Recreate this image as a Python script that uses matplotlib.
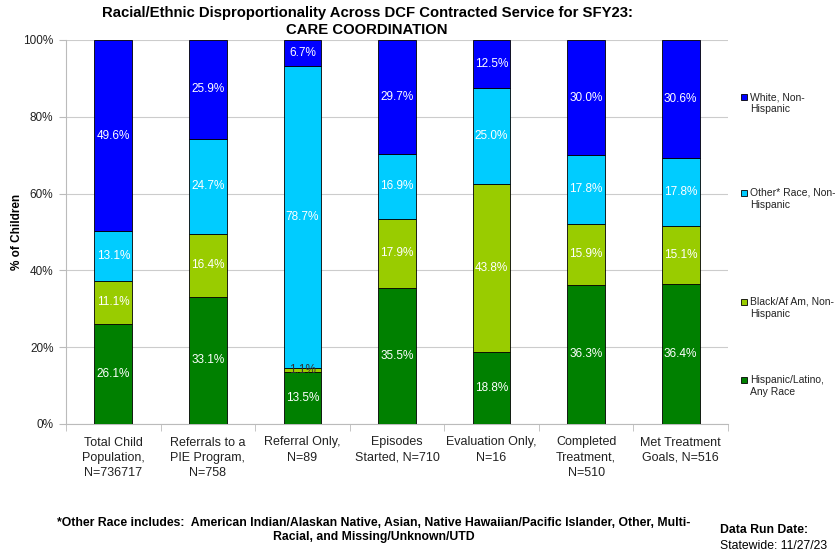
import matplotlib
matplotlib.use("Agg")
import matplotlib.pyplot as plt
import numpy as np
from matplotlib.patches import Rectangle

plt.rcParams['font.family'] = ['Liberation Sans', 'DejaVu Sans']

categories = ["Total Child\nPopulation,\nN=736717", "Referrals to a\nPIE Program,\nN=758",
              "Referral Only,\nN=89", "Episodes\nStarted, N=710", "Evaluation Only,\nN=16",
              "Completed\nTreatment,\nN=510", "Met Treatment\nGoals, N=516"]
hispanic = [26.1, 33.1, 13.5, 35.5, 18.8, 36.3, 36.4]
black = [11.1, 16.4, 1.1, 17.9, 43.8, 15.9, 15.1]
other = [13.1, 24.7, 78.7, 16.9, 25.0, 17.8, 17.8]
white = [49.6, 25.9, 6.7, 29.7, 12.5, 30.0, 30.6]

series = [
    ("Hispanic/Latino,\nAny Race", hispanic, "#008000"),
    ("Black/Af Am, Non-\nHispanic", black, "#99CC00"),
    ("Other* Race, Non-\nHispanic", other, "#00CCFF"),
    ("White, Non-\nHispanic", white, "#0000FF"),
]

W, H = 835, 554
fig = plt.figure(figsize=(W/100, H/100), dpi=100)
ax = fig.add_axes([66/W, 1-424/H, (728-66)/W, (424-40)/H])

x = np.arange(len(categories))
bottom = np.zeros(len(categories))
for name, vals, col in series:
    vals = np.array(vals)
    ax.bar(x, vals, 0.4, bottom=bottom, color=col, edgecolor="black", linewidth=0.6, zorder=3)
    for xi, b, v in zip(x, bottom, vals):
        tc = "#333333" if v < 3 else "white"
        ax.text(xi, b + v/2, f"{v:.1f}%", ha="center", va="center", color=tc, fontsize=8.5, zorder=4)
    bottom += vals

ax.set_xlim(-0.5, len(categories)-0.5)
ax.set_ylim(0, 100)
ax.set_yticks(np.arange(0, 101, 20))
ax.set_yticklabels([f"{t}%" for t in range(0, 101, 20)], fontsize=8.5, color="#222222")
ax.set_xticks(x)
ax.set_xticklabels(categories, fontsize=9, linespacing=1.35, color="#222222")
ax.tick_params(axis="x", length=0, pad=9)
ax.tick_params(axis="y", length=5, color="#BBBBBB", pad=4)
ax.grid(axis="y", color="#CCCCCC", linewidth=0.8, zorder=0)
for s in ["top", "right"]:
    ax.spines[s].set_visible(False)
ax.spines["left"].set_color("#BBBBBB")
ax.spines["bottom"].set_color("#BBBBBB")
# small ticks between the category groups
ax.set_xticks(np.arange(-0.5, len(categories), 1), minor=True)
ax.tick_params(axis="x", which="minor", length=5, color="#BBBBBB")

fig.text(17/W, 1-232/H, "% of Children", rotation=90, ha="center", va="center",
         fontsize=8.5, fontweight="bold")

fig.text(367/W, 1-13/H, "Racial/Ethnic Disproportionality Across DCF Contracted Service for SFY23:",
         ha="center", va="center", fontsize=10.7, fontweight="bold")
fig.text(367/W, 1-30/H, "CARE COORDINATION", ha="center", va="center", fontsize=10.7, fontweight="bold")

# legend entries, top to bottom
ly = [97, 193, 302, 380]
for (name, vals, col), y in zip(series[::-1], ly):
    fig.patches.append(Rectangle((741/W, 1-(y+3)/H), 6/W, 6/H,
                       facecolor=col, edgecolor="black", linewidth=0.6, transform=fig.transFigure))
    fig.text(750/W, 1-(y-5)/H, name, ha="left", va="top", fontsize=7.5, linespacing=1.3, color="#222222")

fig.text(374/W, 1-530/H, "*Other Race includes:  American Indian/Alaskan Native, Asian, Native Hawaiian/Pacific Islander, Other, Multi-\nRacial, and Missing/Unknown/UTD",
         ha="center", va="center", fontsize=8.8, fontweight="bold", linespacing=1.2)
fig.text(720/W, 1-530/H, "Data Run Date:", ha="left", va="center", fontsize=8.8, fontweight="bold")
fig.text(720/W, 1-546/H, "Statewide: 11/27/23", ha="left", va="center", fontsize=8.8)

fig.savefig("out.png", dpi=100)
